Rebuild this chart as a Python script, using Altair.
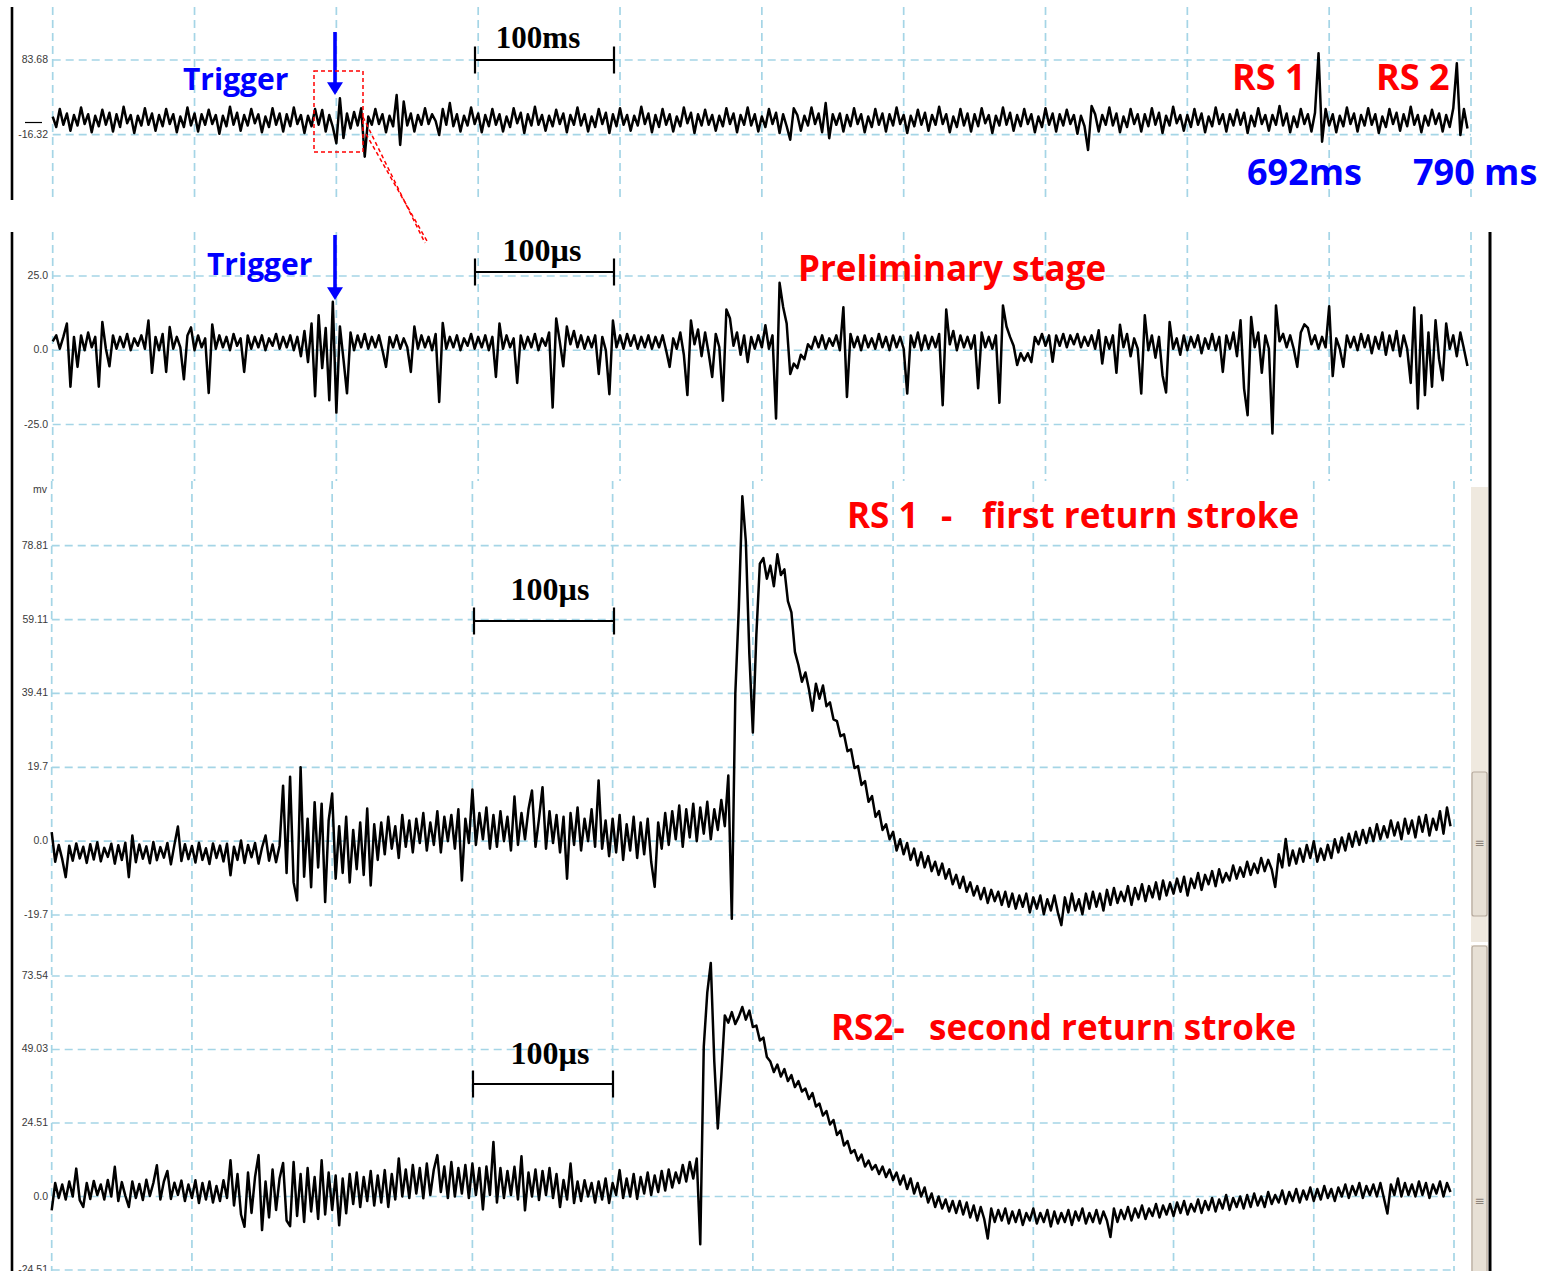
import altair as alt
import numpy as np
import pandas as pd

# ---------------------------------------------------------------------------
# Recorded field-change samples (mV)
# ---------------------------------------------------------------------------

# Whole flash, one sample every 2.5 ms, starting 200 ms before the trigger
overview_mv = [
    8, -6, 18, -3, 12, -11, 10, -4, 20, -2,
    11, -13, 9, -5, 17, -3, 13, -12, 11, -6,
    21, -1, 10, -14, 9, -4, 19, -3, 12, -11,
    10, -5, 18, -2, 11, -13, 8, -6, 20, -4,
    12, -12, 11, -3, 17, -2, 10, -15, 9, -5,
    21, -3, 13, -11, 10, -4, 18, -1, 11, -13,
    8, -6, 19, -3, 12, -12, 11, -5, 20, -2,
    10, -14, 9, -5, 18, -3, 16.7, -12, 10, -6,
    -27.8, 32.4, -20.8, 12, -8, 14, -4, 19, -45.8, 8,
    -3, 18, -2, 11, -13, 9, -5, 36.8, -30.1, 28,
    -4, 12, -12, 10, -3, 19, -2, 11, 2, -16.7,
    18, -3, 26, -5, 11, -12, 9, -4, 20, -2,
    12, -13, 10, -5, 18, -3, 11, -12, 8, -6,
    19, -1, 13, -14, 11, -4, 21, -3, 10, -11,
    9, -5, 17, -2, 12, -13, 10, -3, 20, -4,
    11, -12, 8, -6, 18, -2, 13, -14, 11, -5,
    19, -3, 10, -11, 9, -4, 21, -2, 12, -13,
    10, -6, 18, -3, 11, -12, 8, -5, 20, -1,
    13, -14, 11, -4, 17, -3, 10, -11, 9, -5,
    19, -2, 12, -13, 10, -3, 20, -4, 11, -12,
    8, -6, 18, -2, 13, -14, 11, -5, -23, 19,
    10, -11, 9, -4, 20, -2, 12, -13, 26, -21,
    11, -3, 12, -12, 10, -5, 19, -2, 11, -13,
    8, -6, 18, -3, 12, -12, 11, -4, 20, -2,
    10, -14, 9, -5, 17, -3, 13, -11, 10, -3,
    21, -2, 11, -13, 8, -6, 18, -4, 12, -12,
    11, -5, 19, -1, 10, -14, 9, -4, 20, -3,
    13, -11, 10, -5, 18, -2, 11, -13, 8, -6,
    19, -3, 12, -12, 11, -4, 17, -2, 10, -15,
    9, -5, -36.8, 22, 11, -12, 10, -3, 20, -4,
    12, -13, 8, -6, 18, -2, 11, -12, 11, -5,
    19, -3, 13, -14, 9, -4, 21, -1, 10, -11,
    10, -6, 18, -3, 12, -13, 8, -5, 20, -2,
    11, -12, 11, -4, 17, -3, 13, -14, 9, -5,
    19, -2, 10, -11, 10, -3, 22, -4, 12, -13,
    8, -6, 18, -2, 11, -12, 13, 92.6, -25.7, 18,
    -4, 11, -13, 9, -5, 20, -2, 12, -12, 10,
    -4, 19, -3, 11, -14, 8, -6, 18, -2, 13,
    -11, 11, -5, 21, -3, 10, -13, 9, -4, 17,
    -2, 12, -12, 10, -6, 19, 79.3, -16.7, 18, -8,
]

# Preliminary stage, one sample every 2.5 µs, starting 200 µs before the trigger
prelim_mv = [
    3.0, 5.0, 0.5, 4.5, 9.0, -12.3, 4.5, -5.6, 5.0, 0.0,
    6.0, 1.0, 4.5, -12.3, 9.5, 0.5, -5.4, 5.0, 0.5, 4.5,
    1.0, 5.5, 0.0, 4.0, 1.5, 5.0, 0.5, 10.0, -7.6, 4.5,
    0.0, 5.5, -7.3, 7.8, 0.5, 4.5, 1.0, -9.8, 5.0, 7.7,
    0.0, 5.0, 1.0, 4.0, -14.4, 8.7, 0.5, 5.0, 1.0, 4.5,
    0.0, 5.5, 1.5, 4.0, -7.3, 5.0, 0.5, 4.5, 1.0, 5.0,
    0.0, 4.0, 1.5, 5.5, 0.5, 4.5, 1.0, 5.0, 0.0, 4.5,
    -2.0, 6.5, -4.0, 9.0, -15.5, 11.8, -6.0, 7.5, -16.8, 16.3,
    -21.0, 8.0, -3.0, -14.5, 6.0, 0.0, 5.0, 1.0, 5.5, 0.5,
    4.5, 1.0, 5.0, 0.0, -5.6, 4.5, 1.0, 5.0, 0.5, 4.0,
    1.0, -7.3, 8.0, 0.5, 5.0, 1.0, 4.5, 0.0, 5.5, -17.4,
    9.2, 0.5, 4.5, 1.0, 5.0, 0.0, 4.0, 1.5, 5.5, 0.5,
    4.5, 1.0, 5.0, 0.0, 4.5, -9.0, 9.0, 0.5, 5.0, 1.0,
    4.0, -11.0, 5.0, 0.5, 4.5, 1.0, 5.5, 0.0, 4.0, 1.5,
    6.0, -19.3, 10.7, 3.0, -5.4, 8.0, 2.0, 6.5, 1.0, 5.0,
    0.5, 4.5, 1.0, 5.0, -8.0, 4.5, 0.0, -14.8, 10.0, 1.0,
    5.0, 0.5, 5.5, 1.5, 5.0, 0.5, 4.5, 1.0, 5.0, 0.5,
    4.5, 1.0, 5.0, 0.0, -5.6, 4.0, 0.5, 6.0, -1.5, -15.1,
    10.0, 2.0, 7.0, -2.0, 6.0, -1.0, -9.0, 5.5, 1.0, -17.0,
    13.7, 10.8, 1.5, 6.0, -1.5, 5.0, -4.0, 4.5, 0.5, 5.0,
    1.0, 8.4, 0.5, 5.0, -23.0, 22.7, 14.6, 9.0, -8.0, -4.5,
    -6.0, -1.5, -3.0, 2.0, 0.5, 4.5, 1.0, 5.0, 0.5, 4.0,
    1.5, 5.0, 0.0, 14.5, -15.7, 5.5, 1.0, 4.5, 0.0, 5.0,
    1.0, 4.0, 0.5, 5.5, 1.0, 4.5, 0.0, 5.0, 1.0, 4.5,
    0.5, -14.6, 5.0, 1.0, 6.0, 0.0, 5.0, 0.5, 4.5, 1.0,
    5.5, -18.5, 13.7, 2.0, 6.5, 0.0, 5.0, 1.0, 4.5, 0.5,
    5.0, -12.8, 6.0, 1.0, 4.5, 0.5, 5.0, -17.7, 15.1, 8.0,
    4.5, 1.5, -5.0, -1.0, -3.5, -1.0, -4.0, 4.5, 2.0, 5.5,
    1.5, 5.0, -3.9, 5.0, 1.5, 5.5, 1.0, 5.0, 2.0, 5.5,
    1.0, 4.5, 1.5, 5.0, 0.5, 6.7, -4.5, 4.5, 0.5, 5.0,
    -7.6, 8.6, 1.0, 5.5, -2.0, 4.0, 0.5, -14.6, 11.8, 0.0,
    5.0, -2.5, 4.5, -8.4, -14.2, 9.5, 0.5, 4.0, -1.5, 5.0,
    0.0, 4.5, 1.0, 5.0, -1.0, 4.0, 0.5, 5.5, 0.0, 4.5,
    -7.3, 5.0, 0.5, 6.0, -2.0, 10.1, -12.9, -21.9, 11.2, 1.0,
    6.0, -7.6, 5.0, 0.5, -28.0, 15.1, 3.0, 5.5, 1.0, 5.0,
    0.5, -5.6, 6.0, 8.7, 7.5, 2.0, 5.0, 0.5, 4.5, 1.0,
    14.8, -8.7, 4.0, 0.5, -5.6, 5.0, 1.0, 4.5, 0.0, 5.5,
    1.0, 5.0, -1.0, 4.5, 0.5, 6.0, -1.5, 5.0, 0.0, 6.5,
    -2.0, 5.0, 0.5, -11.0, 14.4, -19.6, 11.8, -15.1, 6.0, -12.3,
    10.1, -3.0, -10.1, 9.0, 0.5, 5.0, -2.0, 6.0, 0.5, -5.3,
]

# First return stroke, one sample every 2.5 µs
rs1_mv = [
    2.4, -5.5, -1.0, -4.8, -9.6, -1.2, -5.2, -0.6, -4.6, -1.5,
    -5.8, -0.8, -4.9, -0.3, -5.4, -1.8, -4.2, -0.7, -6.0, -1.1,
    -5.0, -0.4, -9.6, 1.5, -5.6, -0.9, -4.7, -1.4, -5.9, -0.2,
    -5.1, -1.6, -4.4, -0.5, -6.2, -1.0, 3.9, -5.3, -0.8, -4.8,
    -1.3, -5.7, -0.4, -5.0, -1.9, -6.1, -0.6, -4.5, -1.2, -5.4,
    -0.7, -9.1, -1.5, -5.0, 0.2, -5.8, -1.0, -4.3, -0.5, -6.0,
    -1.7, 1.5, -5.2, -0.9, -5.6, -1.2, 14.8, -8.5, 17.2, -11.0,
    -15.8, 19.7, -9.5, 6.0, -12.3, 10.4, -7.0, 10.0, -16.2, 5.5,
    12.7, -10.0, 4.0, -8.5, 6.5, -11.0, 3.0, -7.5, 5.0, -9.0,
    8.7, -11.8, 4.5, -5.0, 5.0, -3.5, 6.5, -2.0, 4.0, -4.5,
    7.0, -1.5, 5.5, -3.0, 6.0, -0.5, 7.5, -2.5, 5.0, -1.0,
    8.0, -3.0, 6.5, 0.0, 7.0, -2.0, 8.5, -10.5, 6.0, -0.5,
    13.8, -1.0, 7.5, 0.5, 9.0, -2.0, 7.0, -1.5, 8.0, 0.0,
    6.5, -2.5, 11.9, -1.0, 7.5, 0.5, 8.5, 13.5, -1.5, 6.0,
    14.4, -2.0, 8.0, -0.5, 7.0, -3.0, 6.5, -10.0, 7.5, -1.0,
    9.0, -2.5, 6.0, 0.0, 8.5, -1.5, 16.2, -2.0, 5.5, -4.0,
    6.0, -3.0, 7.0, -5.0, 4.5, -2.5, 6.5, -4.5, 5.0, -3.5,
    6.0, -5.5, -12.2, 5.0, -2.0, 7.5, -1.0, 8.0, 0.5, 9.5,
    -1.5, 8.5, 1.0, 10.0, 0.0, 9.0, 2.0, 10.5, 0.5, 8.5,
    3.0, 11.0, 4.0, 17.5, -20.7, 39.3, 62.3, 92.0, 80.0, 49.9,
    29.0, 55.0, 74.0, 75.5, 70.0, 73.5, 68.0, 76.5, 71.0, 72.5,
    64.0, 61.0, 50.5, 47.0, 42.5, 45.0, 40.5, 34.8, 42.0, 38.0,
    41.5, 36.0, 37.0, 32.5, 32.0, 28.0, 28.5, 24.0, 24.5, 19.5,
    20.0, 15.0, 16.0, 10.5, 12.0, 6.5, 8.0, 3.0, 4.5, 0.5,
    2.5, -2.5, 0.5, -3.5, -0.5, -5.0, -2.0, -6.5, -3.0, -7.0,
    -4.0, -8.0, -5.5, -9.0, -6.0, -10.0, -7.5, -11.5, -9.0, -12.5,
    -9.5, -13.5, -11.0, -14.5, -12.0, -15.5, -12.5, -16.5, -13.0, -16.0,
    -13.5, -17.0, -13.5, -17.5, -14.0, -18.0, -14.5, -17.5, -14.0, -19.0,
    -15.0, -18.0, -14.5, -19.5, -15.5, -18.5, -14.5, -19.0, -22.4, -15.0,
    -19.0, -14.0, -18.5, -15.5, -19.5, -14.0, -18.0, -13.5, -17.5, -14.0,
    -18.5, -13.0, -17.0, -12.5, -16.5, -13.5, -16.0, -12.0, -17.0, -12.5,
    -15.5, -11.5, -16.0, -12.0, -15.0, -11.0, -15.5, -10.5, -14.5, -11.0,
    -14.0, -10.0, -13.5, -9.5, -14.5, -10.0, -12.5, -8.5, -13.0, -9.0,
    -11.5, -8.0, -12.0, -7.5, -11.0, -8.5, -10.5, -6.5, -10.0, -7.0,
    -9.5, -5.5, -9.0, -6.0, -8.5, -4.5, -8.0, -5.0, -7.5, -12.2,
    -3.5, -7.0, 0.6, -6.5, -2.5, -6.0, -2.0, -5.5, -1.0, -4.5,
    0.0, -5.5, -2.0, -5.0, -1.0, -4.5, 0.5, -3.0, 1.0, -2.5,
    2.0, -1.5, 2.5, -1.0, 3.0, -0.5, 3.5, 0.0, 4.5, 0.5,
    4.0, 1.0, 5.5, 1.5, 5.0, 0.5, 6.0, 2.0, 5.5, 1.0,
    6.5, 2.5, 7.0, 1.5, 6.0, 3.0, 8.0, 2.0, 9.0, 4.0,
]

# Second return stroke, one sample every 2.5 µs
rs2_mv = [
    -4.6, 4.5, -0.5, 4.0, -1.0, 5.0, 0.0, 9.3, -1.2, -3.5,
    4.5, -0.8, 5.2, 0.5, 4.0, -1.0, 5.5, 0.0, 9.9, -1.5,
    4.8, 0.3, -3.5, 5.0, -0.5, 4.2, -1.2, 5.6, 0.2, 4.5,
    10.4, -1.0, 5.0, 8.5, -0.8, 4.6, 0.5, 5.3, -1.5, 4.0,
    -0.5, 5.4, -2.2, 4.5, -1.0, 5.0, -2.0, 3.5, -1.5, 5.4,
    -0.5, 12.1, -3.0, 7.5, -6.0, -10.1, 8.0, -5.5, 6.5, 13.8,
    -11.2, 5.0, -7.0, 9.0, -4.5, 6.0, 11.2, -8.0, -9.9, 11.5,
    -6.5, 7.5, -8.5, 9.5, -5.0, 6.5, -7.5, 12.1, -6.0, 8.0,
    -4.5, 7.0, -9.6, 6.0, -5.6, 7.5, -2.5, 8.0, -3.5, 6.5,
    -1.5, 8.5, -3.0, 7.0, -2.0, 8.8, -3.5, 7.5, -1.0, 12.7,
    0.0, 9.0, -0.5, 10.5, 1.0, 9.5, -0.6, 11.0, 0.5, 9.0,
    13.8, 1.5, 10.0, -0.5, 11.5, 0.0, 9.5, 1.0, 10.5, -0.5,
    11.0, 0.5, 9.5, -4.3, 10.0, 0.5, 18.2, -2.0, 9.5, -0.5,
    8.5, 0.5, 9.9, -1.0, 13.4, -4.6, 8.0, 0.0, 9.0, -1.2,
    8.5, 0.5, 9.5, -0.5, 7.5, -3.5, 5.5, -1.0, 11.0, -2.2,
    5.0, -1.5, 5.4, 0.0, 4.5, -2.0, 5.0, -1.0, 6.0, -2.2,
    4.5, 0.5, 8.8, -0.5, 6.0, 0.0, 7.5, -0.8, 6.5, 1.0,
    8.0, 0.5, 7.0, 1.5, 8.5, 2.0, 9.0, 3.0, 8.0, 4.5,
    10.5, 5.0, 11.5, 6.0, 12.7, -15.9, 50.0, 68.0, 77.9, 45.0,
    22.7, 40.0, 60.4, 58.0, 61.5, 57.5, 60.0, 63.2, 59.0, 62.0,
    56.5, 57.0, 52.0, 53.0, 46.5, 45.0, 41.5, 44.0, 40.0, 42.5,
    38.5, 40.5, 36.5, 38.5, 35.0, 36.0, 32.5, 34.5, 30.0, 31.0,
    27.0, 28.5, 24.0, 25.5, 20.5, 22.0, 17.0, 18.5, 14.5, 15.5,
    12.0, 14.0, 10.0, 12.0, 9.0, 10.5, 7.5, 10.0, 6.5, 9.0,
    5.5, 8.0, 4.0, 7.0, 2.5, 6.0, 1.0, 4.5, 0.0, 3.0,
    -2.0, 1.0, -3.5, 0.0, -4.0, -1.0, -5.0, -1.5, -5.5, -1.5,
    -6.0, -2.0, -7.0, -3.0, -8.0, -3.5, -7.5, -14.0, -4.0, -8.5,
    -4.5, -8.0, -4.0, -9.0, -5.0, -8.5, -4.5, -9.5, -5.5, -8.0,
    -4.0, -9.0, -5.5, -8.5, -4.5, -10.0, -5.0, -9.0, -5.5, -8.5,
    -4.5, -9.5, -5.0, -8.0, -4.0, -9.0, -5.5, -8.5, -4.5, -9.0,
    -5.0, -8.0, -13.5, -4.0, -8.5, -4.5, -7.5, -3.5, -8.0, -4.0,
    -7.0, -3.0, -7.5, -4.0, -6.5, -2.5, -7.0, -3.0, -6.0, -2.5,
    -6.5, -2.0, -5.5, -1.5, -6.0, -2.5, -5.0, -1.0, -5.5, -1.5,
    -4.5, -0.5, -5.0, -1.0, -4.0, 0.5, -4.5, -0.5, -3.5, 0.0,
    -4.0, 0.5, -3.5, 1.0, -3.0, 0.0, -3.5, 1.5, -2.5, 0.5,
    -2.0, 2.0, -2.5, 1.5, -1.5, 2.5, -2.0, 2.0, -1.0, 3.0,
    -1.5, 2.5, -1.0, 3.5, -0.5, 2.5, -1.5, 3.0, 0.0, 4.0,
    -0.5, 3.5, 0.5, 4.5, -0.5, 3.5, 0.5, 4.0, 0.0, 4.5,
    -0.5, -5.7, 4.0, 0.5, 6.0, 0.0, 4.5, 0.5, 4.0, 0.0,
    5.0, 0.5, 4.5, -0.5, 4.0, 1.0, 5.0, 0.0, 4.5, 1.5,
]

# Vertical-axis graduations of each record
overview_ticks = [83.68, -16.32]
overview_tick_text = ["83.68", "-16.32"]
prelim_ticks = [25.0, 0.0, -25.0]
prelim_tick_text = ["25.0", "0.0", "-25.0"]
rs1_ticks = [78.81, 59.11, 39.41, 19.7, 0.0, -19.7]
rs1_tick_text = ["78.81", "59.11", "39.41", "19.7", "0.0", "-19.7"]
rs2_ticks = [73.54, 49.03, 24.51, 0.0, -24.51]
rs2_tick_text = ["73.54", "49.03", "24.51", "0.0", "-24.51"]

# Time divisions (100 ms / 100 µs per division)
trigger_divisions = [-200, -100, 0, 100, 200, 300, 400, 500, 600, 700, 800]
stroke_divisions = [0, 100, 200, 300, 400, 500, 600, 700, 800, 900, 1000]

# ---------------------------------------------------------------------------
GRID = "#a5d5e6"
BLUE = "#0000ff"
RED = "#ff0000"
TITLE_FONT = "Open Sans"
BAR_FONT = "Liberation Serif"
LABEL_FONT = "Liberation Sans"
TRACE_WIDTH = 2.5


def one_row():
    return pd.DataFrame({"k": [0]})


def panel(values, t0, dt, xdom, xpx, ydom, ypx, ticks, tick_text, divisions, top, bottom):
    xs = alt.Scale(domain=xdom, range=xpx, nice=False, zero=False)
    ys = alt.Scale(domain=ydom, range=ypx, nice=False, zero=False)
    trace = pd.DataFrame({"t": t0 + dt * np.arange(len(values)), "v": values})
    hgrid = pd.DataFrame({"v": ticks, "txt": tick_text})
    vgrid = pd.DataFrame({"t": divisions})

    vlines = alt.Chart(vgrid).mark_rule(color=GRID, strokeWidth=1.7, strokeDash=[8, 5]).encode(
        x=alt.X("t:Q", scale=xs, axis=None), y=alt.value(top), y2=alt.value(bottom))
    hlines = alt.Chart(hgrid).mark_rule(color=GRID, strokeWidth=1.7, strokeDash=[8, 5]).encode(
        y=alt.Y("v:Q", scale=ys, axis=None), x=alt.value(xpx[0]), x2=alt.value(xpx[1]))
    labels = alt.Chart(hgrid).mark_text(
        align="right", baseline="middle", font=LABEL_FONT, fontSize=10.5, color="#3a3a3a"
    ).encode(y=alt.Y("v:Q", scale=ys, axis=None), x=alt.value(48), text="txt:N")
    line = alt.Chart(trace).mark_line(color="black", strokeWidth=TRACE_WIDTH, strokeJoin="round").encode(
        x=alt.X("t:Q", scale=xs, axis=None), y=alt.Y("v:Q", scale=ys, axis=None))
    return [vlines, hlines, labels, line]


def seg(x1, y1, x2, y2, color="black", width=2.0, dash=None):
    kw = dict(color=color, strokeWidth=width)
    if dash:
        kw["strokeDash"] = dash
    return alt.Chart(one_row()).mark_rule(**kw).encode(
        x=alt.value(x1), y=alt.value(y1), x2=alt.value(x2), y2=alt.value(y2))


def text(s, x, y, size, color, font=TITLE_FONT, weight="bold", align="left", baseline="alphabetic"):
    return alt.Chart(pd.DataFrame({"s": [s]})).mark_text(
        font=font, fontSize=size, fontWeight=weight, color=color, align=align, baseline=baseline
    ).encode(x=alt.value(x), y=alt.value(y), text="s:N")


def box(x1, y1, x2, y2, fill, stroke=None, width=1.0, dash=None, radius=0):
    kw = dict(fill=fill, cornerRadius=radius)
    if stroke:
        kw.update(stroke=stroke, strokeWidth=width)
    if dash:
        kw["strokeDash"] = dash
    return alt.Chart(one_row()).mark_rect(**kw).encode(
        x=alt.value(x1), x2=alt.value(x2), y=alt.value(y1), y2=alt.value(y2))


HEAD = "M -1 -0.8 L 1 -0.8 L 0 0.8 Z"


def arrow(x, y_top, y_tip):
    shaft = seg(x, y_top, x, y_tip - 10, color=BLUE, width=3.6)
    head = alt.Chart(one_row()).mark_point(
        shape=HEAD, filled=True, size=256, color=BLUE, opacity=1, strokeWidth=0
    ).encode(x=alt.value(x), y=alt.value(y_tip - 6.4))
    return [shaft, head]


def scale_bar(x1, x2, y, half=13.5):
    return [seg(x1, y, x2, y, width=2.2),
            seg(x1, y - half, x1, y + half, width=2.2),
            seg(x2, y - half, x2, y + half, width=2.2)]


layers = []

# --- whole flash (ms) -------------------------------------------------------
layers += panel(overview_mv, -200, 2.5, [-200, 800], [52.7, 1471], [-16.32, 83.68], [134.7, 60],
                overview_ticks, overview_tick_text, trigger_divisions, 7, 200)
p1_ys = alt.Scale(domain=[-16.32, 83.68], range=[134.7, 60], nice=False, zero=False)
layers.append(alt.Chart(pd.DataFrame({"v": [0.0]})).mark_rule(color="black", strokeWidth=1.2).encode(
    y=alt.Y("v:Q", scale=p1_ys, axis=None), x=alt.value(25), x2=alt.value(42)))

# --- preliminary stage (µs) -------------------------------------------------
layers += panel(prelim_mv, -200, 2.5, [-200, 800], [52.7, 1471], [-25, 25], [424.5, 276],
                prelim_ticks, prelim_tick_text, trigger_divisions, 232, 481)

# --- first return stroke ----------------------------------------------------
layers += panel(rs1_mv, 0, 2.5, [0, 1000], [51.7, 1454], [-19.7, 78.81], [915, 545.7],
                rs1_ticks, rs1_tick_text, stroke_divisions, 481, 941)
layers.append(text("mv", 47, 490, 10.5, "#3a3a3a", font=LABEL_FONT, weight="normal",
                   align="right", baseline="middle"))

# --- second return stroke ---------------------------------------------------
layers += panel(rs2_mv, 0, 2.5, [0, 1000], [51.7, 1454], [-24.51, 73.54], [1270, 976],
                rs2_ticks, rs2_tick_text, stroke_divisions, 941, 1271)

# --- frame lines and scroll bars -------------------------------------------
layers += [
    seg(12, 7, 12, 200, width=2.6),
    seg(12, 232, 12, 1271, width=2.6),
    seg(1490, 232, 1490, 1271, width=3),
    box(1471, 487, 1488, 942, "#efe9df"),
    box(1472, 772, 1487, 916, "#e7e0d5", stroke="#b5a99d", width=1.2, radius=2),
    text("\u2261", 1479.5, 843, 12, "#8b8279", font="DejaVu Sans", weight="normal",
         align="center", baseline="middle"),
    box(1471, 945, 1488, 1290, "#efe9df"),
    box(1472, 946, 1487, 1290, "#e7e0d5", stroke="#b5a99d", width=1.2, radius=2),
    text("\u2261", 1479.5, 1201, 12, "#8b8279", font="DejaVu Sans", weight="normal",
         align="center", baseline="middle"),
]

# --- annotations ------------------------------------------------------------
# whole flash
layers += scale_bar(475, 614, 60)
layers.append(text("100ms", 538, 48, 31, "black", font=BAR_FONT, align="center"))
layers.append(text("Trigger", 183, 90, 30, BLUE))
layers += arrow(335, 32, 95)
layers.append(box(314, 71, 363, 152, "transparent", stroke=RED, width=1.5, dash=[4, 3]))
layers.append(seg(363, 117, 425, 243, color=RED, width=1.5, dash=[4, 3]))
layers.append(seg(366, 134, 427, 241, color=RED, width=1.5, dash=[4, 3]))
layers.append(text("RS 1", 1232, 90, 36, RED))
layers.append(text("RS 2", 1376, 90, 36, RED))
layers.append(text("692ms", 1247, 185, 36, BLUE))
layers.append(text("790 ms", 1413, 185, 36, BLUE))

# preliminary stage
layers += scale_bar(475, 614, 272)
layers.append(text("100\u00b5s", 542, 261, 32, "black", font=BAR_FONT, align="center"))
layers.append(text("Trigger", 207, 275, 30, BLUE))
layers += arrow(335, 235, 300)
layers.append(text("Preliminary stage", 798, 281, 35, RED))

# first return stroke
layers += scale_bar(474, 614, 621)
layers.append(text("100\u00b5s", 550, 600, 32, "black", font=BAR_FONT, align="center"))
layers.append(text("RS 1", 847, 528, 35, RED))
layers.append(text("-", 941, 528, 35, RED))
layers.append(text("first return stroke", 982, 528, 35, RED))

# second return stroke
layers += scale_bar(473, 613, 1084)
layers.append(text("100\u00b5s", 550, 1064, 32, "black", font=BAR_FONT, align="center"))
layers.append(text("RS2-", 831, 1040, 35, RED))
layers.append(text("second return stroke", 929, 1040, 35, RED))

chart = (
    alt.layer(*layers)
    .resolve_scale(x="independent", y="independent")
    .properties(width=1552, height=1271, padding=0,
                autosize=alt.AutoSizeParams(type="none"), background="white")
    .configure_view(stroke=None)
)

chart.save("out.html", embed_options={"renderer": "svg", "actions": False})
